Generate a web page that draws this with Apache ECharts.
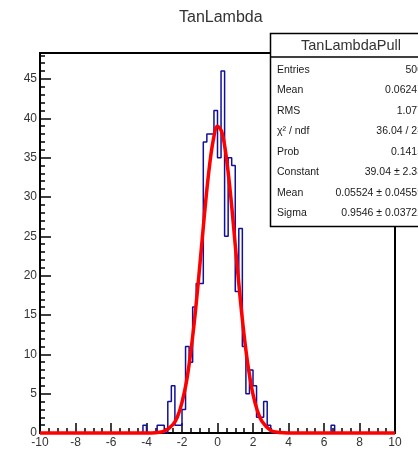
<!DOCTYPE html>
<html>
<head>
<meta charset="utf-8">
<script src="https://cdn.jsdelivr.net/npm/echarts@6/dist/echarts.min.js"></script>
<style>
  html, body { margin: 0; padding: 0; background: #fff; }
  #main { width: 418px; height: 453px; }
</style>
</head>
<body>
<div id="main"></div>
<script>
// TanLambdaPull histogram: 100 bins of width 0.2 from -10 to 10
var binStart = -10;
var binWidth = 0.2;
var counts = [
  0, 0, 0, 0, 0, 0, 0, 0, 0, 0,
  0, 0, 0, 0, 0, 0, 0, 0, 0, 0,
  0, 0, 0, 0, 0, 0, 0, 0, 0, 1,
  0, 0, 0, 1, 1, 0, 4, 6, 1, 1,
  3, 11, 9, 16, 19, 19, 37, 38, 38, 41,
  35, 46, 25, 35, 34, 18, 26, 11, 5, 8,
  6, 2, 2, 4, 1, 0, 0, 0, 0, 0,
  0, 0, 0, 0, 0, 0, 0, 0, 0, 0,
  0, 0, 1, 0, 0, 0, 0, 0, 0, 0,
  0, 0, 0, 0, 0, 0, 0, 0, 0, 0
];

// gaussian fit curve
var fitX = [-10, -4, -3.5, -3, -2.5, -2.25, -2, -1.75, -1.5, -1.25, -1, -0.75, -0.5, -0.25,
            0, 0.25, 0.5, 0.75, 1, 1.25, 1.5, 1.75, 2, 2.25, 2.5, 3, 3.5, 4, 10];
var fitY = [0, 0, 0.04, 0.23, 1.1, 2.1, 3.9, 6.5, 10.4, 15.3, 21.2, 27.4, 33.0, 37.1,
            39.0, 38.2, 35.0, 30.0, 23.9, 17.8, 12.4, 8.1, 4.9, 2.8, 1.5, 0.33, 0.06, 0, 0];

// stats box
var statTitle = 'TanLambdaPull';
var statNames = ['Entries', 'Mean', 'RMS', 'χ² / ndf', 'Prob', 'Constant', 'Mean', 'Sigma'];
var statValues = ['500', '0.06247', '1.077', '36.04 / 28', '0.1415', '39.04 ± 2.33',
                  '0.05524 ± 0.04559', '0.9546 ± 0.03722'];

var FONT = '"Liberation Sans", Arial, sans-serif';

var histData = [];
for (var i = 0; i < counts.length; i++) {
  histData.push([binStart + i * binWidth, counts[i]]);
}
histData.push([binStart + counts.length * binWidth, counts[counts.length - 1]]);

var fitData = fitX.map(function (x, k) { return [x, fitY[k]]; });

var chart = echarts.init(document.getElementById('main'));

var graphics = [
  {
    type: 'rect', z: 100,
    shape: { x: 270.5, y: 33.5, width: 160, height: 193 },
    style: { fill: '#fff', stroke: '#000', lineWidth: 1.5 }
  },
  {
    type: 'line', z: 101,
    shape: { x1: 270, y1: 57, x2: 431, y2: 57 },
    style: { stroke: '#000', lineWidth: 1.5 }
  },
  {
    type: 'text', z: 101, x: 351, y: 46,
    style: { text: statTitle, font: '14.5px ' + FONT, fill: '#333', textAlign: 'center', textVerticalAlign: 'middle' }
  }
];
statNames.forEach(function (name, k) {
  var y = 70 + k * 20.5;
  graphics.push({
    type: 'text', z: 101, x: 277, y: y,
    style: { text: name, font: '10.5px ' + FONT, fill: '#1a1a1a', textAlign: 'left', textVerticalAlign: 'middle' }
  });
  graphics.push({
    type: 'text', z: 101, x: 423, y: y,
    style: { text: statValues[k], font: '10.5px ' + FONT, fill: '#1a1a1a', textAlign: 'right', textVerticalAlign: 'middle' }
  });
});

var option = {
  animation: false,
  title: {
    text: 'TanLambda',
    left: 174,
    top: 5,
    textStyle: { fontSize: 16, fontWeight: 'normal', color: '#333', fontFamily: FONT }
  },
  grid: {
    left: 40, top: 53, right: 23, bottom: 20,
    show: true, borderColor: '#000', borderWidth: 2, backgroundColor: 'transparent'
  },
  xAxis: [
    {
      type: 'value', min: -10, max: 10, interval: 2,
      axisLine: { onZero: false, lineStyle: { color: '#000', width: 2 } },
      axisTick: { inside: true, length: 10, lineStyle: { color: '#000', width: 1.5 } },
      axisLabel: { color: '#333', fontSize: 12, fontFamily: FONT, margin: 4 },
      splitLine: { show: false }
    },
    {
      type: 'value', min: -10, max: 10, interval: 0.5, position: 'bottom',
      axisLine: { show: false, onZero: false },
      axisTick: { inside: true, length: 5, lineStyle: { color: '#000', width: 1.5 } },
      axisLabel: { show: false },
      splitLine: { show: false }
    }
  ],
  yAxis: [
    {
      type: 'value', min: 0, max: 48.3, interval: 5,
      axisLine: { show: true, onZero: false, lineStyle: { color: '#000', width: 2 } },
      axisTick: { show: true, inside: true, length: 11, lineStyle: { color: '#000', width: 1.5 } },
      axisLabel: { color: '#333', fontSize: 12, fontFamily: FONT, margin: 3, showMaxLabel: false },
      splitLine: { show: false }
    },
    {
      type: 'value', min: 0, max: 48.3, interval: 1, position: 'left',
      axisLine: { show: false, onZero: false },
      axisTick: { show: true, inside: true, length: 5, lineStyle: { color: '#000', width: 1.5 } },
      axisLabel: { show: false },
      splitLine: { show: false }
    }
  ],
  series: [
    {
      name: 'TanLambdaPull',
      type: 'line',
      step: 'end',
      data: histData,
      showSymbol: false,
      lineStyle: { color: '#10109a', width: 1.5 },
      z: 2
    },
    {
      name: 'fit',
      type: 'line',
      data: fitData,
      smooth: 0.35,
      showSymbol: false,
      clip: false,
      lineStyle: { color: '#ff0000', width: 3.5 },
      z: 3
    }
  ],
  graphic: graphics
};

option && chart.setOption(option);
</script>
</body>
</html>
